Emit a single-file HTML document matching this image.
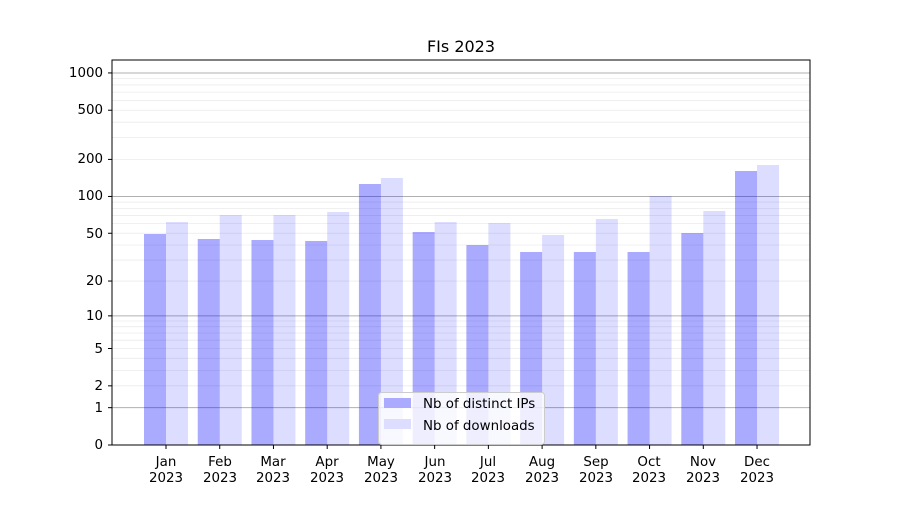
<!DOCTYPE html>
<html><head><meta charset="utf-8"><style>
body{margin:0;background:#fff}
svg text{font-family:"DejaVu Sans","Liberation Sans",sans-serif;font-size:13.4px;fill:#000}
</style></head><body>
<svg id="s" width="900" height="500" xmlns="http://www.w3.org/2000/svg">
<rect width="900" height="500" fill="#fff"/>
<g id="grid"></g>
<g id="bars"></g>
<rect x="112" y="60" width="698" height="385" fill="none" stroke="#000" stroke-width="1"/>
<g id="ticks"></g>
<text x="461" y="52" text-anchor="middle" style="font-size:16px">FIs 2023</text>
<g text-anchor="end">
<text x="103" y="449">0</text><text x="103" y="412">1</text><text x="103" y="390">2</text>
<text x="103" y="353">5</text><text x="103" y="320">10</text><text x="103" y="285">20</text>
<text x="103" y="238">50</text><text x="103" y="200">100</text><text x="103" y="163">200</text>
<text x="103" y="114">500</text><text x="103" y="77">1000</text>
</g>
<g text-anchor="middle" id="xl">
<text x="166" y="466">Jan</text><text x="166" y="482">2023</text>
<text x="220" y="466">Feb</text><text x="220" y="482">2023</text>
<text x="273" y="466">Mar</text><text x="273" y="482">2023</text>
<text x="327" y="466">Apr</text><text x="327" y="482">2023</text>
<text x="381" y="466">May</text><text x="381" y="482">2023</text>
<text x="435" y="466">Jun</text><text x="435" y="482">2023</text>
<text x="488" y="466">Jul</text><text x="488" y="482">2023</text>
<text x="542" y="466">Aug</text><text x="542" y="482">2023</text>
<text x="596" y="466">Sep</text><text x="596" y="482">2023</text>
<text x="649" y="466">Oct</text><text x="649" y="482">2023</text>
<text x="703" y="466">Nov</text><text x="703" y="482">2023</text>
<text x="757" y="466">Dec</text><text x="757" y="482">2023</text>
</g>
<rect x="378.5" y="392.5" width="166" height="52" rx="3" fill="#fff" fill-opacity="0.8" stroke="#ccc"/>
<rect x="384" y="398" width="27" height="10" fill="#aaaaff"/>
<rect x="384" y="419" width="27" height="10" fill="#ddddff"/>
<text x="423" y="408">Nb of distinct IPs</text>
<text x="423" y="430">Nb of downloads</text>
</svg>
<script>
var ns="http://www.w3.org/2000/svg";
function el(p,t,a){var e=document.createElementNS(ns,t);for(var k in a)e.setAttribute(k,a[k]);document.getElementById(p).appendChild(e);}
function Y(v){return 445-124*Math.log10(1+v);}
[1,10,100,1000].forEach(function(d){for(var m=1;m<10;m++){var v=d*m;var y=Y(v);if(y<60)continue;
el("grid","line",{x1:112,x2:810,y1:y,y2:y,stroke:m==1?"#b0b0b0":"#ebebeb","stroke-width":m==1?1:0.8});}});
var ip=[234,239,240,241,184,232,245,252,252,252,233,171];
var dl=[222,215,215,212,178,222,223,235,219,196,211,165];
for(var i=0;i<12;i++){var c=166+i*53.73;
el("bars","rect",{x:c-22,y:ip[i],width:22,height:445-ip[i],fill:"#0000ff","fill-opacity":0.333});
el("bars","rect",{x:c,y:dl[i],width:22,height:445-dl[i],fill:"#0000ff","fill-opacity":0.133});
el("ticks","line",{x1:c,x2:c,y1:445,y2:449,stroke:"#000"});}
[0,1,2,5,10,20,50,100,200,500,1000].forEach(function(v){var y=Y(v);el("ticks","line",{x1:108,x2:112,y1:y,y2:y,stroke:"#000"});});
</script>
</body></html>
